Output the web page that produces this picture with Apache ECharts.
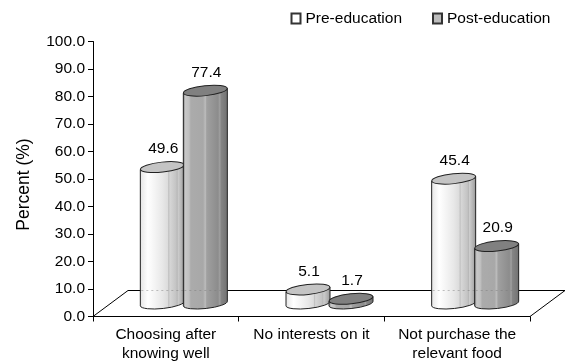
<!DOCTYPE html>
<html>
<head>
<meta charset="utf-8">
<style>html,body{margin:0;padding:0;background:#fff}#chart{width:570px;height:364px}</style>
<script src="https://cdn.jsdelivr.net/npm/echarts@6/dist/echarts.min.js"></script>
</head>
<body>
<div id="chart"></div>
<script>
const categories = ['Choosing after\nknowing well', 'No interests on it', 'Not purchase the\nrelevant food'];
const preEducation = [49.6, 5.1, 45.4];
const postEducation = [77.4, 1.7, 20.9];

const FONT = '"Liberation Sans", Arial, sans-serif';
const FONT_SIZE = 15.5;
const DEPTH_X = 35, DEPTH_Y = 26;        // floor depth of the pseudo-3D plot
const SHIFT_X = 18, SHIFT_Y = 13;        // cylinders stand mid-way across the floor
const RX = 22, RY = 5, TILT = 2.4;       // ellipse radii and end-to-end tilt

// Banded shading that fakes the curved cylinder walls
const preSide = [[0,'#e4e4e4'],[0.18,'#ffffff'],[0.5,'#e8e8e8'],[0.62,'#dcdcdc'],[0.64,'#c0c0c0'],[0.67,'#d6d6d6'],[0.8,'#c4c4c4'],[0.83,'#b8b8b8'],[0.85,'#cccccc'],[0.95,'#aaaaaa'],[1,'#888888']];
const postSide = [[0,'#707070'],[0.06,'#c8c8c8'],[0.14,'#c0c0c0'],[0.18,'#ababab'],[0.45,'#a8a8a8'],[0.5,'#bcbcbc'],[0.53,'#a0a0a0'],[0.78,'#8c8c8c'],[0.82,'#a0a0a0'],[0.85,'#858585'],[1,'#707070']];

function cylinder(offset, sideStops, topColor) {
  return function (params, api) {
    const value = api.value(1);
    const band = api.coord([api.value(0), 0]);
    const head = api.coord([api.value(0), value]);
    const cx = band[0] + SHIFT_X + offset;
    const yb = band[1] - SHIFT_Y;
    const yt = head[1] - SHIFT_Y;
    const backY = band[1] - DEPTH_Y;
    const x0 = cx - RX, x1 = cx + RX;
    const side = 'M' + x0 + ' ' + (yt + TILT) + 'L' + x0 + ' ' + (yb + TILT) +
      'A' + RX + ' ' + RY + ' -6 0 0 ' + x1 + ' ' + (yb - TILT) +
      'L' + x1 + ' ' + (yt - TILT) + 'Z';
    const children = [
      {
        type: 'path',
        shape: { pathData: side },
        style: {
          fill: new echarts.graphic.LinearGradient(0, 0, 1, 0, sideStops.map(s => ({ offset: s[0], color: s[1] }))),
          stroke: '#222222', lineWidth: 1
        }
      },
      {
        type: 'ellipse',
        shape: { cx: cx, cy: yt, rx: RX, ry: RY },
        rotation: 6 * Math.PI / 180,
        originX: cx, originY: yt,
        style: { fill: topColor, stroke: '#222222', lineWidth: 1 }
      },
      {
        type: 'text',
        x: cx + 1, y: yt - 18,
        style: { text: value.toFixed(1), font: FONT_SIZE + 'px ' + FONT, fill: '#000', align: 'center', verticalAlign: 'middle' }
      }
    ];
    // Faint trace of the floor's back edge across tall cylinders
    if (yt < backY - RY) {
      children.splice(1, 0, {
        type: 'line',
        shape: { x1: x0 + 1, y1: backY, x2: x1 - 1, y2: backY },
        style: { stroke: 'rgba(120,120,120,0.45)', lineWidth: 1, lineDash: [2, 3] }
      });
    }
    return { type: 'group', children: children };
  };
}

function floor(params, api) {
  const c = params.coordSys;
  const l = c.x, r = c.x + c.width, b = c.y + c.height;
  return {
    type: 'polyline',
    shape: { points: [[l, b], [l + DEPTH_X, b - DEPTH_Y], [r + DEPTH_X, b - DEPTH_Y], [r, b]] },
    style: { fill: null, stroke: '#000', lineWidth: 1 },
    silent: true
  };
}

const chart = echarts.init(document.getElementById('chart'), null, { renderer: 'canvas' });
chart.setOption({
  animation: false,
  backgroundColor: '#fff',
  textStyle: { fontFamily: FONT },
  grid: { left: 93, right: 40, top: 41.5, height: 275, containLabel: false },
  legend: {
    top: 5.5, left: 285.5,
    itemWidth: 9, itemHeight: 10, itemGap: 30,
    icon: 'rect',
    textStyle: { fontSize: FONT_SIZE, color: '#000', fontFamily: FONT },
    data: ['Pre-education', 'Post-education']
  },
  xAxis: {
    type: 'category',
    data: categories,
    axisLine: { lineStyle: { color: '#000', width: 1 } },
    axisTick: { show: true, length: 5, alignWithLabel: false, lineStyle: { color: '#000' } },
    axisLabel: { color: '#000', fontSize: FONT_SIZE, lineHeight: 19, margin: 9, fontFamily: FONT, interval: 0 }
  },
  yAxis: {
    type: 'value',
    min: 0, max: 100, interval: 10,
    name: 'Percent (%)',
    nameLocation: 'middle',
    nameGap: 60,
    nameTextStyle: { color: '#000', fontSize: 17.5, fontFamily: FONT, padding: [0, 11, 0, 0] },
    splitLine: { show: false },
    axisLine: { show: true, lineStyle: { color: '#000', width: 1 } },
    axisTick: { show: true, length: 5, lineStyle: { color: '#000' } },
    axisLabel: { color: '#000', fontSize: FONT_SIZE, margin: 8, fontFamily: FONT, formatter: v => v.toFixed(1) }
  },
  series: [
    { type: 'custom', silent: true, renderItem: floor, data: [[0, 0]], z: 1, encode: { x: 0, y: 1 } },
    {
      name: 'Pre-education', type: 'custom', z: 2,
      itemStyle: { color: '#ffffff', borderColor: '#333', borderWidth: 1 },
      renderItem: cylinder(-21.5, preSide, '#c4c4c4'),
      data: preEducation.map((v, i) => [i, v]), encode: { x: 0, y: 1 }
    },
    {
      name: 'Post-education', type: 'custom', z: 3,
      itemStyle: { color: '#bdbdbd', borderColor: '#333', borderWidth: 1 },
      renderItem: cylinder(21.5, postSide, '#808080'),
      data: postEducation.map((v, i) => [i, v]), encode: { x: 0, y: 1 }
    }
  ]
});
</script>
</body>
</html>
